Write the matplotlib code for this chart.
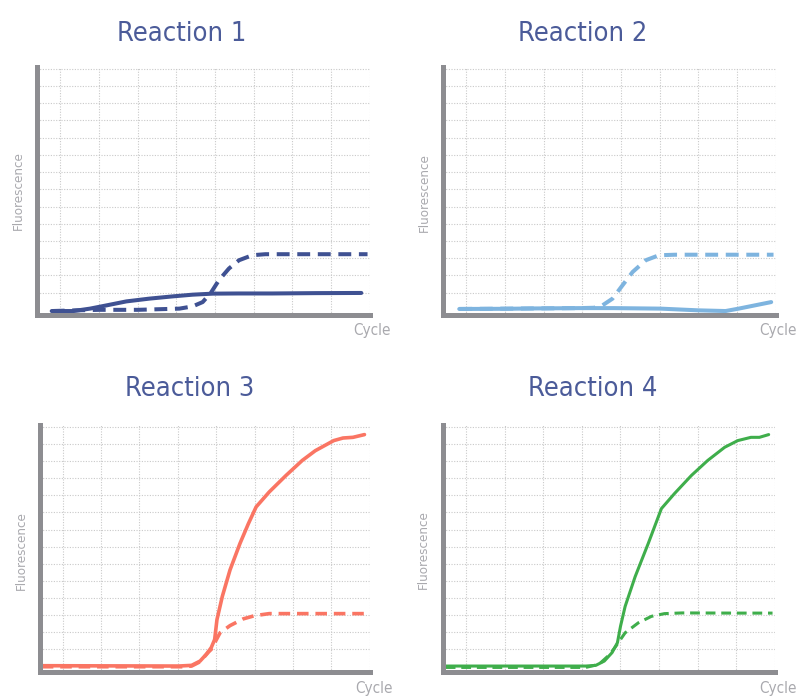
import numpy as np
import matplotlib
matplotlib.use("Agg")
import matplotlib.pyplot as plt

plt.rcParams['font.family'] = ['DejaVu Sans']
plt.rcParams['font.stretch'] = 'condensed'

W, H = 800, 699

titles = ["Reaction 1", "Reaction 2", "Reaction 3", "Reaction 4"]
colors = ["#3f5192", "#7eb4df", "#fa7563", "#3fae4b"]

# reaction 1
r1_solid_x = [3.9, 6.7, 8.85, 11, 13.55, 16.5, 19.5, 22.1, 24.7, 28, 32.4, 38, 43.9]
r1_solid_y = [-0.07, -0.07, 0.07, 0.26, 0.49, 0.65, 0.78, 0.88, 0.94, 0.95, 0.95, 0.97, 0.98]
r1_dash_x = [3.9, 7, 10.1, 15, 20.4, 22.1, 23.4, 24.45, 25.5, 26.8, 28.1, 29.8, 31.5, 38, 44.7]
r1_dash_y = [-0.07, -0.03, 0.0, 0.0, 0.07, 0.2, 0.45, 0.98, 1.72, 2.4, 2.88, 3.17, 3.23, 3.23, 3.23]

# reaction 2
r2_solid_x = [4.1, 10, 13.6, 19.7, 24, 30.1, 35, 38.5, 40.2, 44.4]
r2_solid_y = [0.05, 0.06, 0.08, 0.1, 0.1, 0.07, -0.03, -0.07, 0.07, 0.45]
r2_dash_x = [4.1, 19.7, 21.5, 22.6, 23.9, 25.2, 26.5, 28.2, 29.9, 32, 38, 44.7]
r2_dash_y = [0.05, 0.1, 0.12, 0.26, 0.65, 1.43, 2.2, 2.88, 3.17, 3.2, 3.2, 3.2]

# reaction 3
r3_solid_x = [2.3, 20.1, 21.8, 22.9, 23.7, 24.35, 24.8, 25.1, 25.8, 26.8, 28.1, 29.2,
              30.2, 31.9, 34.1, 36.2, 37.9, 40.3, 41.5, 42.8, 44.3]
r3_solid_y = [0.05, 0.03, 0.07, 0.32, 0.71, 1.1, 1.58, 2.74, 4.1, 5.64, 7.19, 8.35,
              9.32, 10.19, 11.16, 12.03, 12.6, 13.19, 13.34, 13.38, 13.54]
r3_dash_x = [2.3, 20.5, 21.8, 22.9, 24.0, 24.35, 25.5, 26.8, 28.5, 30, 31.9, 38, 44.7]
r3_dash_y = [-0.01, -0.01, 0.03, 0.28, 0.85, 1.0, 1.97, 2.39, 2.78, 2.97, 3.09, 3.09, 3.09]

# reaction 4
r4_solid_x = [2.35, 20.5, 21.8, 22.9, 23.9, 24.6, 25.0, 25.6, 26.9, 28.6, 30.3, 32.0,
              34.2, 36.3, 38.5, 40.2, 41.9, 43.0, 44.2]
r4_solid_y = [0.03, 0.03, 0.07, 0.32, 0.81, 1.39, 2.35, 3.51, 5.25, 7.19, 9.22, 10.1,
              11.16, 12.03, 12.8, 13.19, 13.38, 13.38, 13.54]
r4_dash_x = [2.35, 20.5, 22.2, 23.6, 24.4, 25.6, 27.3, 29.0, 30.7, 33, 40, 44.7]
r4_dash_y = [-0.05, -0.05, 0.13, 0.7, 1.19, 1.97, 2.55, 2.93, 3.09, 3.13, 3.12, 3.12]

series = [
    (r1_solid_x, r1_solid_y, r1_dash_x, r1_dash_y),
    (r2_solid_x, r2_solid_y, r2_dash_x, r2_dash_y),
    (r3_solid_x, r3_solid_y, r3_dash_x, r3_dash_y),
    (r4_solid_x, r4_solid_y, r4_dash_x, r4_dash_y),
]

# panel boxes in pixels: left, top, right, bottom
boxes = [(37, 67, 370, 315), (443, 67, 776, 315),
         (39.5, 425, 370, 671.7), (443, 425, 775, 671.7)]
title_pos = [(182, 34), (583, 34), (190, 389), (593, 389)]
ylabel_pos = [(18, 191), (424, 193), (21, 551), (423, 550)]
xlabel_pos = [(372, 330), (778, 330), (374, 689), (778, 689)]
line_w = [2.9, 2.9, 2.6, 2.2]

fig = plt.figure(figsize=(W / 100, H / 100), dpi=100)


def rect(l, t, r, b):
    return [l / W, 1 - b / H, (r - l) / W, (b - t) / H]


for i in range(4):
    ax = fig.add_axes(rect(*boxes[i]))
    sx, sy, dx, dy = series[i]
    c = colors[i]
    ax.plot(dx, dy, color=c, lw=line_w[i], dashes=(3.2, 1.9), solid_joinstyle='round')
    ax.plot(sx, sy, color=c, lw=line_w[i], solid_capstyle='round', solid_joinstyle='round')

    ax.set_xlim(2, 45.02)
    ax.set_ylim(-0.3, 14.1)
    ax.set_xticks(np.arange(5, 46, 5))
    ax.set_yticks(np.arange(1, 15, 1))
    ax.tick_params(length=0, labelbottom=False, labelleft=False)
    ax.grid(True, color="#c9c9c9", lw=0.8, linestyle=(0, (1, 1.4)))
    ax.set_axisbelow(True)
    for s in ["top", "right"]:
        ax.spines[s].set_visible(False)
    for s in ["left", "bottom"]:
        ax.spines[s].set_color("#8d8d91")
        ax.spines[s].set_linewidth(3.6)
        ax.spines[s].set_capstyle('projecting')

    tx, ty = title_pos[i]
    fig.text(tx / W, 1 - ty / H, titles[i], ha="center", va="center",
             fontsize=19.5, color="#4b5b99")
    lx, ly = ylabel_pos[i]
    fig.text(lx / W, 1 - ly / H, "Fluorescence", ha="center", va="center",
             rotation=90, fontsize=9.5, color="#a9a9ae")
    cx, cy = xlabel_pos[i]
    fig.text(cx / W, 1 - cy / H, "Cycle", ha="center", va="center",
             fontsize=11, color="#a9a9ae")

fig.savefig("out.png", dpi=100)
